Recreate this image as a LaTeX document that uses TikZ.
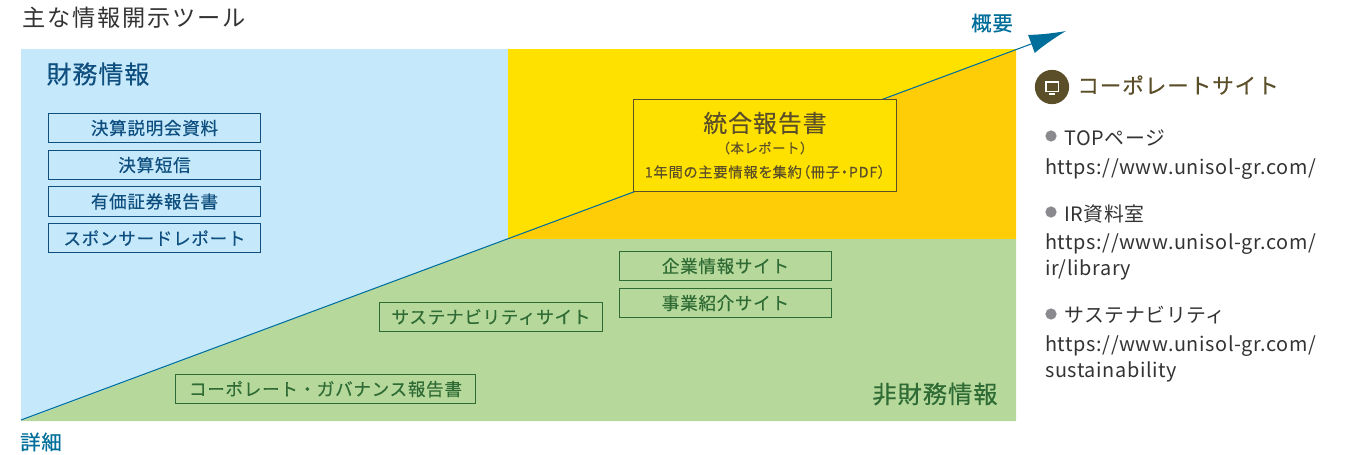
\documentclass[tikz,border=0pt]{standalone}
\usepackage{fontspec}
\usetikzlibrary{arrows.meta}
\setmainfont{Noto Sans CJK JP}
\newfontfamily\jpwide[LetterSpace=8]{Noto Sans CJK JP}
\newfontfamily\jpbold[FakeBold=0.4,LetterSpace=4]{Noto Sans CJK JP}
\newfontfamily\jptight[FakeBold=0.4,RawFeature={+palt},LetterSpace=6]{Noto Sans CJK JP}
\newfontfamily\jpurl[LetterSpace=3]{Noto Sans CJK JP}
\definecolor{finblue}{HTML}{C5E8FA}
\definecolor{finink}{HTML}{0F4F80}
\definecolor{nongreen}{HTML}{B6D99B}
\definecolor{nonink}{HTML}{2F6B35}
\definecolor{topyellow}{HTML}{FFE100}
\definecolor{toporange}{HTML}{FFCC08}
\definecolor{olive}{HTML}{5B4F29}
\definecolor{axisblue}{HTML}{006E9A}
\definecolor{listgray}{HTML}{8A8A8E}
\definecolor{listink}{HTML}{333333}
\tikzset{
    finbox/.style={draw=finink,line width=0.6pt,minimum width=121pt,minimum height=17pt,inner sep=0pt,text=finink,font=\jpbold\fontsize{10pt}{10pt}\selectfont},
    nonbox/.style={draw=nonink,line width=0.6pt,minimum height=17pt,inner sep=0pt,text=nonink,font=\jpbold\fontsize{10pt}{10pt}\selectfont},
    listtext/.style={anchor=west,inner sep=0pt,text=listink,font=\jpurl\fontsize{11.3pt}{12pt}\selectfont},
    listdot/.style={circle,fill=listgray,inner sep=0pt,minimum size=6.4pt},
    axislabel/.style={inner sep=0pt,text=axisblue,font=\jpbold\fontsize{11.6pt}{12pt}\selectfont}
}
\begin{document}
\begin{tikzpicture}[x=0.02cm,y=-0.02cm]
    \useasboundingbox (0,0) rectangle (1347,454);

    % panel
    \fill[finblue] (21,49) rectangle (508,421);
    \fill[topyellow] (508,49) rectangle (1016,239);
    \fill[toporange] (508,239) -- (1016,50) -- (1016,239) -- cycle;
    \fill[nongreen] (21,421) -- (508,239) -- (1016,239) -- (1016,421) -- cycle;

    \coordinate (start) at (21,420);
    \coordinate (tip) at (1066,31);
    \draw[axisblue,line width=0.6pt,-{Latex[length=21pt,width=11pt]}] (start) -- (tip);

    \node [inner sep=0pt,text=listink,font=\jpwide\fontsize{13.2pt}{14pt}\selectfont] (title) at (134,18) {主な情報開示ツール};
    \node [axislabel] (summary) at (992,23) {概要};
    \node [axislabel] (detail) at (41,442) {詳細};

    \node [inner sep=0pt,text=finink,font=\jpbold\fontsize{14.2pt}{14pt}\selectfont] (fin) at (98,74) {財務情報};
    \node [finbox] (f1) at (154.5,128) {決算説明会資料};
    \node [finbox] (f2) at (154.5,165) {決算短信};
    \node [finbox] (f3) at (154.5,201.5) {有価証券報告書};
    \node [finbox] (f4) at (154.5,238) {スポンサードレポート};

    \node [inner sep=0pt,text=nonink,font=\jpbold\fontsize{13.8pt}{14pt}\selectfont] (non) at (935,394) {非財務情報};
    \node [nonbox,minimum width=121pt] (n1) at (725.5,266) {企業情報サイト};
    \node [nonbox,minimum width=121pt] (n2) at (725.5,303) {事業紹介サイト};
    \node [nonbox,minimum width=127pt] (n3) at (491,317) {サステナビリティサイト};
    \node [nonbox,minimum width=171pt] (n4) at (325.5,389) {コーポレート・ガバナンス報告書};

    \node [draw=olive,line width=0.6pt,fill=topyellow,minimum width=150pt,minimum height=52pt,inner sep=0pt] (report) at (765,145.5) {};
    \node [inner sep=0pt,text=olive,font=\jpbold\fontsize{13.6pt}{14pt}\selectfont] (r1) at (765,123) {統合報告書};
    \node [inner sep=0pt,text=olive,font=\jpbold\fontsize{7.6pt}{8pt}\selectfont] (r2) at (765,148) {（本レポート）};
    \node [inner sep=0pt,text=olive,font=\jptight\fontsize{8.1pt}{8pt}\selectfont] (r3) at (765,172) {1年間の主要情報を集約（冊子・PDF）};

    % site list
    \node [circle,fill=olive,inner sep=0pt,minimum size=19.5pt] (icon) at (1052,87) {};
    \fill[white] (1045,81) rectangle (1059,92);
    \fill[olive] (1046.5,82.5) rectangle (1057.5,90.5);
    \fill[white] (1049,93) rectangle (1055,94.5);
    \node [anchor=west,inner sep=0pt,text=olive,font=\jpbold\fontsize{12.3pt}{13pt}\selectfont] (site) at (1077,85) {コーポレートサイト};

    \node [listdot] (d1) at (1051,136) {};
    \node [listtext] (l1) at (1064,138) {TOPページ};
    \node [listtext] (l2) at (1045,169) {https://www.unisol-gr.com/};
    \node [listdot] (d2) at (1051,212) {};
    \node [listtext] (l3) at (1064,214) {IR資料室};
    \node [listtext] (l4) at (1045,244) {https://www.unisol-gr.com/};
    \node [listtext] (l5) at (1045,270) {ir/library};
    \node [listdot] (d3) at (1051,314) {};
    \node [listtext] (l6) at (1064,315) {サステナビリティ};
    \node [listtext] (l7) at (1045,346) {https://www.unisol-gr.com/};
    \node [listtext] (l8) at (1045,372) {sustainability};
\end{tikzpicture}
\end{document}
